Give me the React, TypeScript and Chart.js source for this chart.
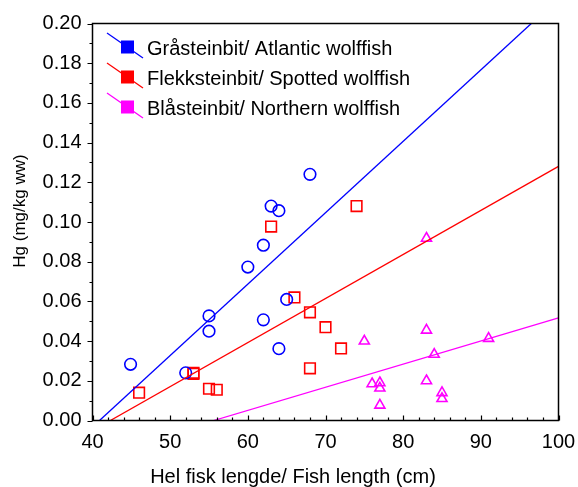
import React, { useEffect, useRef } from 'react';
import { Chart, registerables } from 'chart.js';
Chart.register(...registerables);

const FONT = "'Liberation Sans', Arial, sans-serif";

// Gråsteinbit / Atlantic wolffish
const atlanticLength = [44.9, 52, 55, 55, 60, 62, 62, 63, 64, 64, 65, 68];
const atlanticHg = [0.0283, 0.024, 0.0527, 0.045, 0.0773, 0.0883, 0.0507, 0.108, 0.1057, 0.0362, 0.061, 0.124];

// Flekksteinbit / Spotted wolffish
const spottedLength = [46, 53, 53, 55, 56, 63, 66, 68, 68, 70, 72, 74];
const spottedHg = [0.014, 0.0235, 0.024, 0.016, 0.0155, 0.0977, 0.062, 0.0545, 0.0263, 0.047, 0.0363, 0.108];

// Blåsteinbit / Northern wolffish
const northernLength = [75, 76, 77, 77, 77, 83, 83, 83, 84, 85, 85, 91];
const northernHg = [0.04, 0.0185, 0.019, 0.0163, 0.0077, 0.0918, 0.0455, 0.02, 0.0333, 0.014, 0.011, 0.0413];

// Regression lines (endpoints)
const atlanticFitX = [40.9, 96.5];
const atlanticFitY = [0, 0.2];
const spottedFitX = [42.3, 100];
const spottedFitY = [0, 0.128];
const northernFitX = [55.6, 100];
const northernFitY = [0, 0.0517];

const seriesNames = [
  'Gråsteinbit/ Atlantic wolffish',
  'Flekksteinbit/ Spotted wolffish',
  'Blåsteinbit/ Northern wolffish',
];
const seriesColors = ['#0000ff', '#ff0000', '#ff00ff'];

const xTitle = 'Hel fisk lengde/ Fish length (cm)';
const yTitle = 'Hg (mg/kg ww)';

const toPts = (xs: number[], ys: number[]) => xs.map((x, i) => ({ x, y: ys[i] }));

const decorPlugin = {
  id: 'decor',
  afterDraw(chart: any) {
    const { ctx, chartArea, scales } = chart;
    const { left, right, top, bottom } = chartArea;
    const xs = scales.x;
    const ys = scales.y;
    ctx.save();
    ctx.strokeStyle = '#000';
    ctx.lineWidth = 1.5;
    ctx.strokeRect(left, top, right - left, bottom - top);
    ctx.lineWidth = 1.2;
    ctx.beginPath();
    for (let i = 0; i <= 20; i++) {
      const v = i * 0.01;
      const py = Math.round(ys.getPixelForValue(v)) + 0.5;
      const len = i % 2 === 0 ? 5 : 3;
      ctx.moveTo(left - len, py);
      ctx.lineTo(left, py);
    }
    for (let v = 40; v <= 100; v += 2) {
      const px = Math.round(xs.getPixelForValue(v)) + 0.5;
      const len = v % 10 === 0 ? 5 : 3;
      ctx.moveTo(px, bottom);
      ctx.lineTo(px, bottom - len);
    }
    ctx.stroke();

    // titles
    ctx.fillStyle = '#000';
    ctx.font = `20px ${FONT}`;
    ctx.textAlign = 'center';
    ctx.textBaseline = 'middle';
    ctx.fillText(xTitle, 293, 477);
    ctx.save();
    ctx.font = `17px ${FONT}`;
    ctx.translate(20, 211);
    ctx.rotate(-Math.PI / 2);
    ctx.fillText(yTitle, 0, 0);
    ctx.restore();

    // legend
    ctx.textAlign = 'left';
    ctx.textBaseline = 'alphabetic';
    for (let i = 0; i < seriesNames.length; i++) {
      const dy = i * 30;
      ctx.strokeStyle = seriesColors[i];
      ctx.lineWidth = 1.3;
      ctx.beginPath();
      ctx.moveTo(107, 33 + dy);
      ctx.lineTo(143, 58 + dy);
      ctx.stroke();
      ctx.fillStyle = seriesColors[i];
      ctx.fillRect(121, 40.5 + dy, 13, 13);
      ctx.fillStyle = '#000';
      ctx.fillText(seriesNames[i], 147, 55 + dy);
    }
    ctx.restore();
  },
};

export default function App() {
  const ref = useRef<HTMLCanvasElement | null>(null);
  useEffect(() => {
    document.body.style.margin = '0';
    const canvas = ref.current;
    if (!canvas) return;
    const pointDs = (label: string, data: any, color: string, style: string, radius: number) => ({
      type: 'scatter' as const,
      label,
      data,
      showLine: false,
      pointStyle: style,
      pointRadius: radius,
      pointBorderColor: color,
      pointBackgroundColor: 'rgba(0,0,0,0)',
      pointBorderWidth: 1.6,
    });
    const lineDs = (label: string, data: any, color: string) => ({
      type: 'scatter' as const,
      label,
      data,
      showLine: true,
      borderColor: color,
      borderWidth: 1.3,
      pointRadius: 0,
      fill: false,
    });
    const chart = new Chart(canvas, {
      type: 'scatter',
      data: {
        datasets: [
          lineDs('fit1', toPts(atlanticFitX, atlanticFitY), seriesColors[0]),
          lineDs('fit2', toPts(spottedFitX, spottedFitY), seriesColors[1]),
          lineDs('fit3', toPts(northernFitX, northernFitY), seriesColors[2]),
          pointDs(seriesNames[0], toPts(atlanticLength, atlanticHg), seriesColors[0], 'circle', 5.8),
          pointDs(seriesNames[1], toPts(spottedLength, spottedHg), seriesColors[1], 'rect', 7.5),
          pointDs(seriesNames[2], toPts(northernLength, northernHg), seriesColors[2], 'triangle', 5.8),
        ] as any,
      },
      options: {
        animation: false,
        responsive: false,
        devicePixelRatio: 1,
        layout: { padding: { top: 23.5, right: 19.5, left: 0, bottom: 0 } },
        plugins: { legend: { display: false }, tooltip: { enabled: false } },
        scales: {
          x: {
            type: 'linear',
            min: 40,
            max: 100,
            border: { display: false },
            grid: { display: false, drawTicks: false },
            ticks: {
              stepSize: 10,
              padding: 10,
              color: '#000',
              font: { family: FONT, size: 20 },
              maxRotation: 0,
              callback: (v: any) => String(v),
            },
            afterFit: (s: any) => { s.height = 66.5; s.paddingLeft = 0; s.paddingRight = 0; },
          },
          y: {
            type: 'linear',
            min: 0,
            max: 0.2,
            border: { display: false },
            grid: { display: false, drawTicks: false },
            ticks: {
              stepSize: 0.02,
              padding: 11,
              color: '#000',
              font: { family: FONT, size: 20 },
              callback: (v: any) => Number(v).toFixed(2),
            },
            afterFit: (s: any) => { s.width = 92.5; s.paddingTop = 0; s.paddingBottom = 0; },
          },
        },
      },
      plugins: [decorPlugin],
    });
    return () => chart.destroy();
  }, []);
  return (
    <div style={{ width: 578, height: 487 }}>
      <canvas ref={ref} width={578} height={487} />
    </div>
  );
}
